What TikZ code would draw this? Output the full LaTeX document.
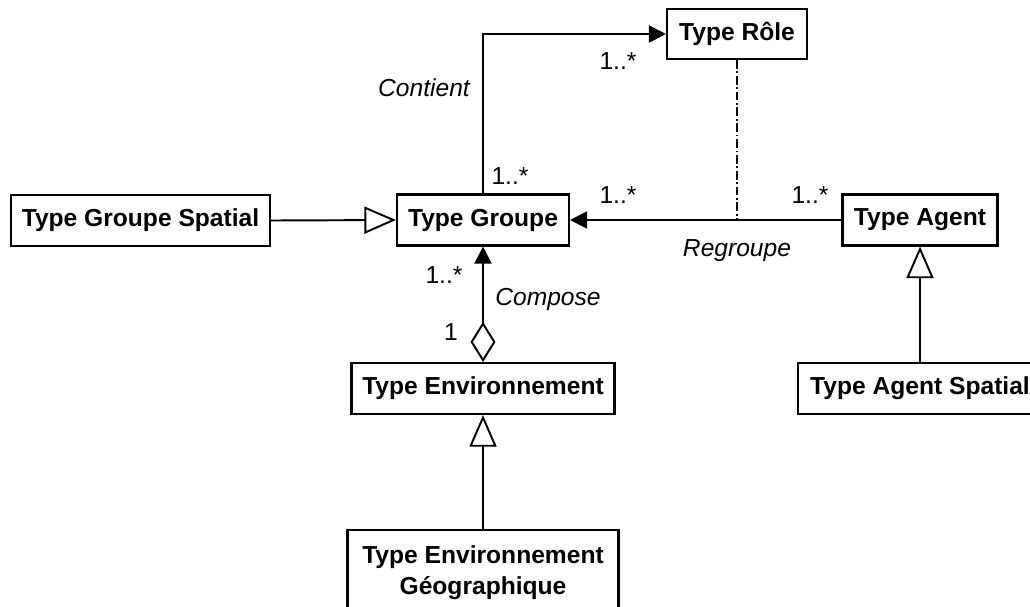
\documentclass[tikz,border=0pt]{standalone}
\usepackage{fontspec}
\setmainfont{Liberation Sans}
\usetikzlibrary{arrows.meta}

\begin{document}
\begin{tikzpicture}[x=0.02cm,y=-0.02cm,
  font=\fontsize{14}{17.6}\selectfont,
  classe/.style={draw,line width=1.2pt,font=\bfseries\fontsize{14}{17.6}\selectfont,
    minimum height=1.02cm,inner sep=0pt},
  lbl/.style={inner sep=0pt},
  assoc/.style={line width=1.1pt,-{Triangle[length=9.7pt,width=9.7pt]}},
  aggr/.style={{Diamond[open,length=22.8pt,width=14.2pt]}-{Triangle[length=9.7pt,width=9.7pt]}},
  inherit/.style={line width=1.1pt,-{Triangle[open,length=18pt,width=15.4pt]}},
  lienclasse/.style={line width=0.7pt,dash pattern=on 5pt off 1.5pt on 1pt off 1.5pt}]
\useasboundingbox (0,0) rectangle (1030,606);
\node[classe,minimum width=2.80cm,minimum height=1.0cm] (role) at (737,34) {Type Rôle};
\node[classe,minimum width=5.18cm] (groupespatial) at (140.5,220.5) {Type Groupe Spatial};
\node[classe,minimum width=3.44cm] (groupe) at (483,220) {Type Groupe};
\node[classe,minimum width=3.10cm] (agent) at (920,220) {Type Agent};
\node[classe,minimum width=5.26cm] (env) at (483,388.5) {Type Environnement};
\node[classe,minimum width=4.88cm] (agentspatial) at (920,388.5) {Type Agent Spatial};
\node[classe,minimum width=5.42cm,anchor=north,align=center,inner ysep=0.32cm] (envgeo) at (483,529)
  {Type Environnement\\Géographique};
\draw[assoc] (groupe.north) |- (role.west);
\draw[assoc] (agent.west) -- (groupe.east);
\coordinate (rg) at (role.south |- groupe.east);
\draw[lienclasse] (role.south) -- (rg);
\draw[assoc,aggr] (env.north) -- (groupe.south);
\draw[inherit] (groupespatial.east) -- (groupe.west);
\draw[inherit] (agentspatial.north) -- (agent.south);
\draw[inherit] (envgeo.north) -- (env.south);
\node[lbl] (contient) at (424,88) {\itshape Contient};
\node[lbl] (mrole) at (618,61) {1..*};
\node[lbl] (mgroupehaut) at (510,176) {1..*};
\node[lbl] (mgroupedroite) at (618,195) {1..*};
\node[lbl] (magent) at (810,195) {1..*};
\node[lbl] (regroupe) at (737,251) {\itshape Regroupe};
\node[lbl] (mgroupebas) at (444,275) {1..*};
\node[lbl] (compose) at (548,299) {\itshape Compose};
\node[lbl] (menv) at (451,332) {1};
\end{tikzpicture}
\end{document}
